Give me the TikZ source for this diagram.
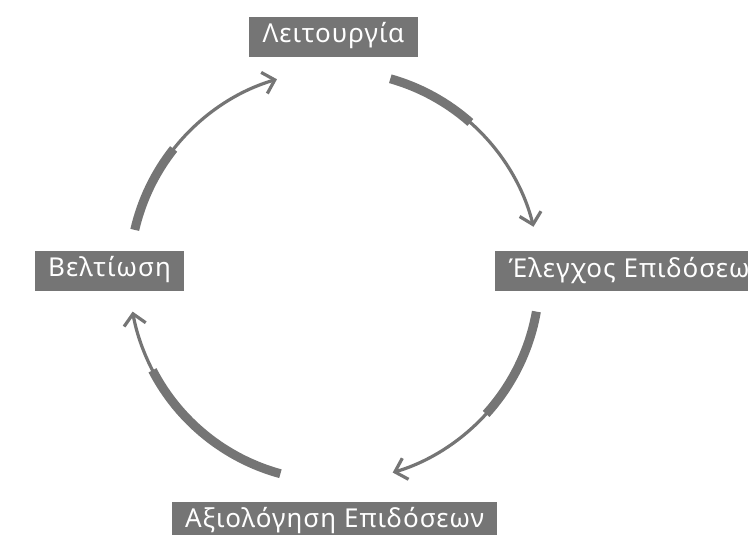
\documentclass[tikz,border=0pt]{standalone}
\usepackage{fontspec}
\setmainfont{Noto Sans}[LetterSpace=4]
\usepackage{tikz}
\usetikzlibrary{arrows.meta, positioning}
\definecolor{cycGray}{HTML}{757575}

\begin{document}
\begin{tikzpicture}[
  x=1pt, y=1pt,
  stage/.style={fill=cycGray, text=white, minimum height=40pt, inner xsep=13.5pt, inner ysep=0pt,
    text height=20pt, text depth=8pt, font=\fontsize{26}{30}\selectfont},
  heavy/.style={draw=cycGray, line width=9pt},
  light/.style={draw=cycGray, line width=3.2pt, -{Straight Barb[length=11pt, width=22pt]}},
]
  \useasboundingbox (0,0) rectangle (748,535);
  \coordinate (ctr) at (334.5,259);

  \node[stage] (oper) at (333.5,498) {Λειτουργία};
  \node[stage, anchor=west] (check) at (495,263.5) {Έλεγχος Επιδόσεων};
  \node[stage] (eval) at (334.5,13) {Αξιολόγηση Επιδόσεων};
  \node[stage] (impr) at (109.5,264) {Βελτίωση};

  % operation -> check
  \draw[heavy] ([shift={(74.2:205)}]ctr) arc[start angle=74.2, end angle=48.5, radius=205];
  \draw[light] ([shift={(49.5:205)}]ctr) arc[start angle=49.5, end angle=13.9, radius=205];
  % check -> evaluation
  \draw[heavy] ([shift={(-10:205)}]ctr) arc[start angle=-10, end angle=-42.3, radius=205];
  \draw[light] ([shift={(-41.3:205)}]ctr) arc[start angle=-41.3, end angle=-73.5, radius=205];
  % evaluation -> improvement
  \draw[heavy] ([shift={(254.7:205)}]ctr) arc[start angle=254.7, end angle=207.4, radius=205];
  \draw[light] ([shift={(208.4:205)}]ctr) arc[start angle=208.4, end angle=190, radius=205];
  % improvement -> operation
  \draw[heavy] ([shift={(167:205)}]ctr) arc[start angle=167, end angle=141.7, radius=205];
  \draw[light] ([shift={(142.7:205)}]ctr) arc[start angle=142.7, end angle=106.3, radius=205];
\end{tikzpicture}
\end{document}
